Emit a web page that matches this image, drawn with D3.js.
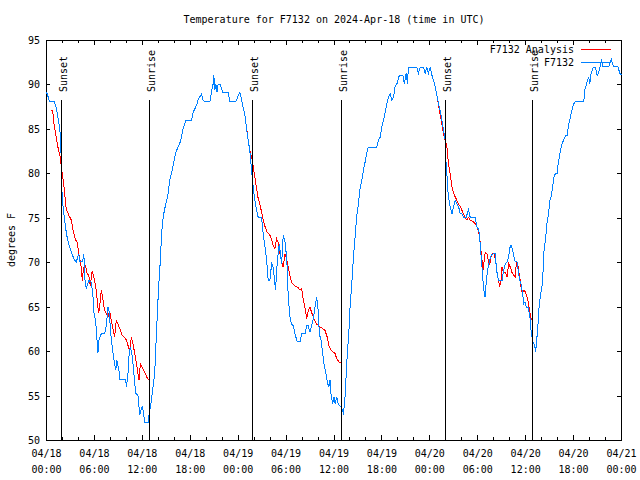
<!DOCTYPE html>
<html><head><meta charset="utf-8">
<script src="https://cdn.jsdelivr.net/npm/d3@7"></script>
<style>
body{margin:0;background:#fff}
svg{display:block;background:#fff}
text{font-family:"DejaVu Sans Mono","Liberation Mono",monospace;font-size:10px;fill:#000}
</style>
</head><body>
<svg id="c" width="640" height="480"></svg>
<script>
// hours since 2024-04-18 00:00 UTC, temperature in degrees F
const obs = [[0.0,89.2],[0.16,88.8],[0.38,88.1],[1.00,88.1],[1.13,87.7],[1.29,87.1],[1.42,86.4],[1.63,85.3],[1.72,84.5],[1.84,81.9],[1.87,78.9],[2.04,76.6],[2.26,74.8],[2.51,73.2],[2.67,72.5],[2.89,71.8],[3.17,71.0],[3.51,70.3],[3.73,70.1],[4.05,71.0],[4.14,70.1],[4.52,70.1],[4.68,71.0],[4.77,68.4],[4.98,67.1],[5.31,68.0],[5.58,67.8],[5.81,66.5],[5.90,64.6],[6.15,63.5],[6.44,59.9],[6.56,61.3],[6.86,62.0],[7.28,62.0],[7.49,62.9],[7.69,65.0],[7.90,64.3],[7.99,62.4],[8.24,60.5],[8.40,59.4],[8.66,57.9],[8.82,59.0],[9.07,57.9],[9.16,56.9],[9.91,56.9],[10.00,56.0],[10.20,57.5],[10.32,59.4],[10.50,60.5],[10.75,59.4],[10.91,57.9],[11.16,55.3],[11.45,55.1],[11.67,52.9],[12.00,53.9],[12.17,52.9],[12.29,52.0],[12.71,52.0],[12.83,52.8],[13.13,54.5],[13.33,56.0],[13.55,57.5],[13.67,60.1],[13.84,63.5],[13.96,65.8],[14.09,68.0],[14.26,70.3],[14.39,72.9],[14.51,74.4],[14.68,75.5],[14.93,76.6],[15.22,77.7],[15.43,79.3],[15.64,80.0],[16.06,81.9],[16.27,82.6],[16.68,83.4],[16.90,84.1],[17.10,85.1],[17.44,86.0],[18.15,86.0],[18.35,86.9],[18.78,87.7],[18.98,88.3],[19.41,89.0],[19.61,88.3],[19.82,88.1],[20.45,88.1],[20.66,89.2],[20.86,90.1],[20.95,91.1],[21.07,89.4],[21.20,90.1],[21.36,89.2],[21.49,90.1],[21.79,90.0],[22.04,89.2],[22.74,89.2],[22.96,88.1],[23.71,88.1],[24.00,88.8],[24.21,89.2],[24.42,88.4],[24.62,87.5],[24.84,86.6],[25.05,85.1],[25.25,83.8],[25.46,82.6],[25.68,80.4],[25.80,79.3],[25.88,78.5],[26.09,77.0],[26.31,75.9],[26.51,75.1],[26.93,75.1],[27.13,73.3],[27.35,71.8],[27.56,70.3],[27.76,68.0],[27.97,68.0],[28.19,69.9],[28.39,69.5],[28.60,67.6],[28.69,66.9],[28.81,69.1],[29.01,71.0],[29.14,72.1],[29.29,71.0],[29.44,69.9],[29.57,71.8],[29.64,73.1],[29.85,72.5],[29.98,71.4],[30.14,69.5],[30.27,66.1],[30.48,63.9],[30.69,63.1],[30.90,62.9],[31.11,62.0],[31.40,61.1],[31.74,61.1],[31.95,62.0],[32.36,62.0],[32.58,62.9],[32.78,62.9],[32.99,62.2],[33.20,62.9],[33.41,63.7],[33.62,65.0],[33.83,66.1],[34.03,64.6],[34.16,62.0],[34.37,61.3],[34.58,59.8],[34.75,58.6],[35.00,57.5],[35.16,56.6],[35.34,56.0],[35.50,56.8],[35.62,55.3],[35.84,54.1],[36.00,54.9],[36.16,54.1],[36.34,54.9],[36.54,54.1],[36.84,53.8],[37.09,53.4],[37.17,52.9],[37.38,54.9],[37.51,57.1],[37.67,59.8],[37.85,62.0],[38.01,65.0],[38.22,67.6],[38.42,70.4],[38.64,72.9],[38.85,75.3],[39.05,76.6],[39.26,78.3],[39.48,79.3],[39.68,80.4],[39.89,81.3],[40.10,82.3],[40.30,83.0],[41.36,83.0],[41.56,83.8],[41.77,84.1],[41.99,85.3],[42.19,86.0],[42.40,86.9],[42.61,87.9],[42.81,88.6],[43.03,89.0],[43.24,88.3],[43.44,88.6],[43.65,89.8],[43.87,90.1],[44.19,91.1],[44.62,91.1],[44.82,90.1],[45.03,91.3],[45.20,90.1],[45.32,92.0],[46.38,92.0],[46.58,91.3],[46.79,92.0],[47.20,92.0],[47.42,91.3],[47.63,92.0],[47.83,91.3],[48.04,92.0],[48.26,91.1],[48.46,90.5],[48.67,89.8],[48.89,88.8],[49.09,87.9],[49.30,87.1],[49.51,86.0],[49.71,84.9],[49.92,83.8],[50.05,80.8],[50.14,80.0],[50.21,78.5],[50.34,77.4],[50.55,76.3],[50.77,75.5],[50.97,76.3],[51.18,77.0],[51.39,76.6],[51.60,76.3],[51.81,75.5],[52.02,75.5],[52.22,75.1],[52.56,75.1],[52.85,76.1],[52.94,75.5],[53.06,75.1],[53.69,75.1],[53.90,74.0],[54.10,73.8],[54.23,73.0],[54.40,71.0],[54.53,69.5],[54.65,68.0],[54.82,66.5],[54.94,66.1],[55.07,68.0],[55.23,69.1],[55.36,69.7],[55.48,70.3],[55.66,70.8],[55.91,71.0],[56.20,71.0],[56.32,69.5],[56.49,68.4],[56.61,68.0],[57.04,68.0],[57.24,69.1],[57.45,69.9],[57.66,70.1],[57.87,70.6],[57.99,71.6],[58.17,72.0],[58.33,71.6],[58.49,70.8],[58.71,70.1],[58.92,70.1],[59.12,68.8],[59.25,68.0],[59.42,67.6],[59.55,66.9],[59.67,66.1],[59.75,65.4],[59.92,65.6],[60.09,65.0],[60.30,65.0],[60.37,64.6],[60.50,64.1],[60.59,63.5],[60.67,62.4],[60.80,61.6],[60.93,61.0],[61.13,60.7],[61.25,60.0],[61.34,60.9],[61.43,61.8],[61.55,63.1],[61.68,65.0],[61.84,66.3],[61.97,66.9],[62.09,67.6],[62.18,69.1],[62.26,71.0],[62.47,72.5],[62.59,73.6],[62.68,74.6],[62.88,75.5],[63.01,77.0],[63.18,77.4],[63.31,78.1],[63.43,78.9],[63.51,79.6],[63.72,80.0],[63.94,80.0],[64.01,80.8],[64.14,81.5],[64.35,82.6],[64.56,83.4],[64.77,83.8],[64.98,84.3],[65.19,84.3],[65.27,84.9],[65.39,85.6],[65.61,86.4],[65.82,87.3],[66.02,87.9],[66.23,88.1],[67.27,88.1],[67.40,89.4],[67.61,90.1],[67.90,90.9],[68.03,90.1],[68.20,91.3],[68.45,92.0],[68.74,92.0],[68.95,91.1],[69.12,91.3],[69.37,92.2],[69.49,92.9],[69.62,92.1],[70.41,92.1],[70.71,92.9],[70.87,92.4],[71.04,92.1],[71.54,92.1],[71.79,91.3],[72.0,91.1]];

const anaNight1 = [[0.50,87.2],[0.79,87.1],[0.88,86.0],[1.22,84.1],[1.51,82.6],[1.72,81.9],[1.97,80.0],[2.17,78.7],[2.47,76.0],[2.67,75.7],[2.76,75.4],[3.10,74.8],[3.30,73.8],[3.64,72.5],[3.80,72.5],[4.05,71.0],[4.35,69.5],[4.48,68.0],[4.64,69.5],[4.89,69.7],[5.06,68.9],[5.31,68.5],[5.48,67.4],[5.73,69.1],[6.02,68.0],[6.23,66.9],[6.44,65.0],[6.56,64.4],[6.74,65.8],[6.86,66.9],[7.06,65.9],[7.28,64.6],[7.49,64.3],[7.69,63.9],[7.90,64.6],[8.12,63.5],[8.32,62.6],[8.53,61.6],[8.74,63.5],[8.94,63.1],[9.16,62.6],[9.50,61.8],[9.78,61.6],[10.00,61.3],[10.20,60.7],[10.41,60.1],[10.62,61.6],[10.83,60.9],[11.04,59.8],[11.33,58.3],[11.58,56.8],[11.75,58.6],[12.00,58.2],[12.29,57.7],[12.58,57.1],[12.83,56.8],[12.92,58.3]];
const anaNight2 = [[24.84,86.6],[25.05,85.2],[25.25,83.8],[25.46,82.6],[25.68,81.9],[25.88,80.9],[26.09,79.6],[26.31,78.3],[26.51,77.2],[26.72,76.6],[26.93,75.7],[27.13,74.8],[27.35,74.1],[27.64,73.4],[27.97,73.1],[28.19,72.6],[28.39,71.9],[28.60,71.6],[28.81,72.7],[29.01,72.3],[29.23,71.0],[29.44,70.1],[29.64,69.5],[29.85,71.0],[30.07,70.4],[30.27,69.5],[30.48,68.6],[30.69,67.8],[31.11,67.4],[31.52,67.2],[31.74,66.9],[31.95,67.1],[32.15,65.8],[32.36,65.0],[32.58,63.7],[32.78,64.6],[32.99,65.0],[33.20,64.4],[33.49,63.7],[33.83,63.1],[34.24,62.8],[34.87,62.4],[35.16,61.6],[35.41,60.5],[35.71,60.1],[36.13,59.8],[36.34,59.2],[36.67,58.8],[36.97,58.8]];
const anaNight3 = [[48.89,88.8],[49.21,87.1],[49.51,85.6],[49.71,84.5],[49.92,83.8],[50.14,83.0],[50.34,81.1],[50.55,80.0],[50.77,78.5],[50.97,77.8],[51.18,77.4],[51.39,77.0],[51.60,76.6],[51.81,76.3],[52.02,75.9],[52.22,75.5],[52.43,75.1],[52.64,74.8],[52.85,75.1],[53.06,74.8],[53.47,74.6],[53.69,74.4],[53.90,74.0],[54.10,73.6],[54.23,72.9],[54.40,71.4],[54.53,70.3],[54.65,69.1],[54.82,70.3],[54.94,71.2],[55.15,71.0],[55.36,70.1],[55.48,69.7],[55.66,70.6],[55.82,71.0],[56.07,71.0],[56.32,69.7],[56.49,68.4],[56.61,68.0],[56.74,67.3],[56.91,68.0],[57.04,69.5],[57.24,68.9],[57.45,68.9],[57.66,68.4],[57.87,69.9],[58.08,69.5],[58.29,68.9],[58.49,68.6],[58.71,68.4],[58.83,70.1],[59.00,69.9],[59.12,69.1],[59.25,68.4],[59.42,67.3],[59.55,66.7],[59.84,66.9],[59.96,66.7],[60.09,66.3],[60.26,65.9],[60.37,65.2],[60.50,64.6],[60.67,63.7],[60.80,63.6]];

const sunsetHours = [1.85, 25.85, 49.95];
const sunriseHours = [12.85, 36.9, 60.88];

const xTickHours = [0,6,12,18,24,30,36,42,48,54,60,66,72];
const xTickLabels = [["04/18","00:00"],["04/18","06:00"],["04/18","12:00"],["04/18","18:00"],["04/19","00:00"],["04/19","06:00"],["04/19","12:00"],["04/19","18:00"],["04/20","00:00"],["04/20","06:00"],["04/20","12:00"],["04/20","18:00"],["04/21","00:00"]];
const xMinorHours = [2,4,8,10,14,16,20,22,26,28,32,34,38,40,44,46,50,52,56,58,62,64,68,70];
const yTicks = [50,55,60,65,70,75,80,85,90,95];

const titleText = "Temperature for F7132 on 2024-Apr-18 (time in UTC)";
const yLabel = "degrees F";
const seriesNames = ["F7132 Analysis","F7132"];
const colors = ["#ff0000","#0080ff"];

const svg = d3.select("#c");
const x = d3.scaleLinear().domain([0,72]).range([46,621]);
const y = d3.scaleLinear().domain([50,95]).range([440,40]);

function styleAxis(g){
  g.select(".domain").remove();
  g.selectAll("line").attr("stroke","#000").attr("shape-rendering","crispEdges");
  g.attr("font-family",null).attr("font-size",null);
}

// bottom major + labels
const gb = svg.append("g").attr("transform","translate(0,440)")
  .call(d3.axisBottom(x).tickValues(xTickHours).tickSize(-5).tickSizeOuter(0).tickFormat(""));
styleAxis(gb);
gb.selectAll(".tick text").each(function(d,i){
  const t = d3.select(this).attr("y",null).attr("dy",null).attr("fill","#000");
  t.append("tspan").attr("x",0).attr("y",17).text(xTickLabels[i][0]);
  t.append("tspan").attr("x",0).attr("y",33).text(xTickLabels[i][1]);
});
styleAxis(svg.append("g").attr("transform","translate(0,440)")
  .call(d3.axisBottom(x).tickValues(xMinorHours).tickSize(-3).tickSizeOuter(0).tickFormat("")));
// top
styleAxis(svg.append("g").attr("transform","translate(0,40)")
  .call(d3.axisTop(x).tickValues(xTickHours).tickSize(-5).tickSizeOuter(0).tickFormat("")));
styleAxis(svg.append("g").attr("transform","translate(0,40)")
  .call(d3.axisTop(x).tickValues(xMinorHours).tickSize(-3).tickSizeOuter(0).tickFormat("")));
// left
const gl = svg.append("g").attr("transform","translate(46,0)")
  .call(d3.axisLeft(y).tickValues(yTicks).tickSize(-4).tickSizeOuter(0).tickPadding(6).tickFormat(d3.format("d")));
styleAxis(gl);
gl.selectAll(".tick text").attr("fill","#000").attr("dy","0.35em");
// right
styleAxis(svg.append("g").attr("transform","translate(621,0)")
  .call(d3.axisRight(y).tickValues(yTicks).tickSize(-4).tickSizeOuter(0).tickFormat("")));

// border
svg.append("rect").attr("x",46.5).attr("y",40.5).attr("width",575).attr("height",400)
  .attr("fill","none").attr("stroke","#000").attr("shape-rendering","crispEdges");

// data
const line = d3.line().x(d=>x(d[0])).y(d=>y(d[1]));
const gd = svg.append("g").attr("transform","translate(0.5,0.5)");
[anaNight1, anaNight2, anaNight3].forEach(seg=>{
  gd.append("path").datum(seg).attr("d",line).attr("fill","none")
    .attr("stroke",colors[0]).attr("stroke-width",1).attr("shape-rendering","crispEdges");
});
gd.append("path").datum(obs).attr("d",line).attr("fill","none")
  .attr("stroke",colors[1]).attr("stroke-width",1).attr("shape-rendering","crispEdges");

// sunrise / sunset markers
const events = sunsetHours.map(h=>({h,label:"Sunset"})).concat(sunriseHours.map(h=>({h,label:"Sunrise"})));
const ge = svg.append("g");
events.forEach(e=>{
  const px = Math.round(x(e.h))+0.5;
  ge.append("line").attr("x1",px).attr("x2",px).attr("y1",y(50)).attr("y2",y(50)+ (y(95)-y(50))*0.85)
    .attr("stroke","#000").attr("shape-rendering","crispEdges");
  ge.append("text").attr("transform",`translate(${px+5},${y(50)+(y(95)-y(50))*0.87}) rotate(-90)`)
    .attr("text-anchor","start").text(e.label);
});

// title and axis label
svg.append("text").attr("x",334).attr("y",23).attr("text-anchor","middle").text(titleText);
svg.append("text").attr("transform","translate(15,240) rotate(-90)").attr("text-anchor","middle").text(yLabel);

// legend
const legY = [49.5, 62.5];
seriesNames.forEach((n,i)=>{
  svg.append("text").attr("x",574).attr("y",legY[i]+3.5).attr("text-anchor","end").text(n);
  svg.append("line").attr("x1",581).attr("x2",611).attr("y1",legY[i]).attr("y2",legY[i])
    .attr("stroke",colors[i]).attr("shape-rendering","crispEdges");
});
</script>
</body></html>
